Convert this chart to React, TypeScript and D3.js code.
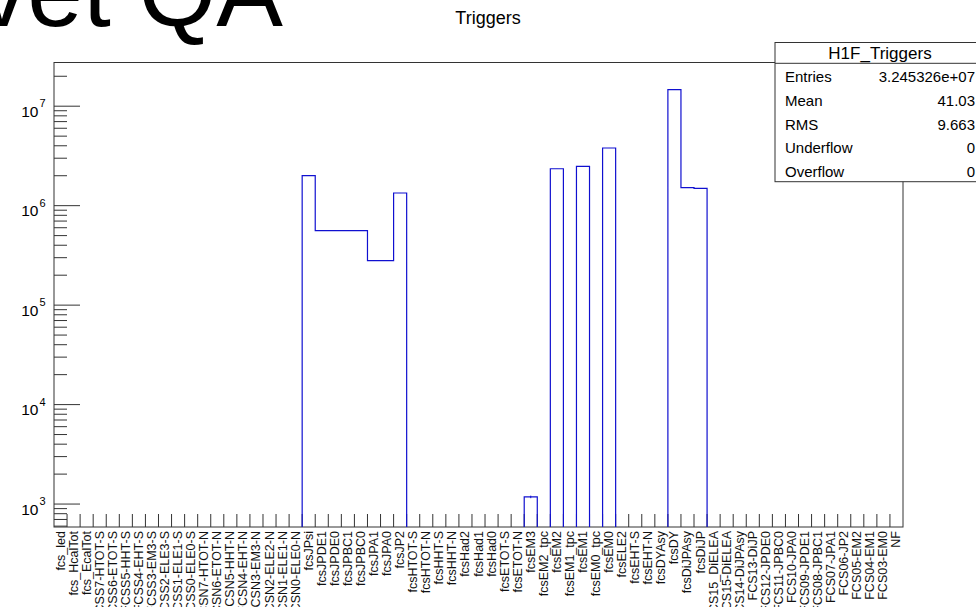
import React, { useEffect, useRef } from 'react';
import * as d3 from 'd3';

// bin labels of H1F_Triggers (one per bin)
const binLabels = [
  'fcs_led', 'fcs_HcalTot', 'fcs_EcalTot',
  'FCSS7-HTOT-S', 'FCSS6-ETOT-S', 'FCSS5-HHT-S', 'FCSS4-EHT-S', 'FCSS3-EM3-S',
  'FCSS2-ELE3-S', 'FCSS1-ELE1-S', 'FCSS0-ELE0-S',
  'FCSN7-HTOT-N', 'FCSN6-ETOT-N', 'FCSN5-HHT-N', 'FCSN4-EHT-N', 'FCSN3-EM3-N',
  'FCSN2-ELE2-N', 'FCSN1-ELE1-N', 'FCSN0-ELE0-N',
  'fcsJPsi', 'fcsJPDE1', 'fcsJPDE0', 'fcsJPBC1', 'fcsJPBC0', 'fcsJPA1', 'fcsJPA0', 'fcsJP2',
  'fcsHTOT-S', 'fcsHTOT-N', 'fcsHHT-S', 'fcsHHT-N', 'fcsHad2', 'fcsHad1', 'fcsHad0',
  'fcsETOT-S', 'fcsETOT-N', 'fcsEM3', 'fcsEM2_tpc', 'fcsEM2', 'fcsEM1_tpc', 'fcsEM1',
  'fcsEM0_tpc', 'fcsEM0', 'fcsELE2', 'fcsEHT-S', 'fcsEHT-N', 'fcsDYAsy', 'fcsDY',
  'fcsDiJPAsy', 'fcsDiJP',
  'FCS15_DiELEA', 'FCS15-DiELEA', 'FCS14-DiJPAsy', 'FCS13-DiJP', 'FCS12-JPDE0',
  'FCS11-JPBC0', 'FCS10-JPA0', 'FCS09-JPDE1', 'FCS08-JPBC1', 'FCS07-JPA1', 'FCS06-JP2',
  'FCS05-EM2', 'FCS04-EM1', 'FCS03-EM0', 'NF'
];

// counts per bin
const binCounts = [
  0, 0, 0,
  0, 0, 0, 0, 0, 0, 0, 0,
  0, 0, 0, 0, 0, 0, 0, 0,
  2.0e6, 5.6e5, 5.6e5, 5.6e5, 5.6e5, 2.8e5, 2.8e5, 1.34e6,
  0, 0, 0, 0, 0, 0, 0,
  0, 0, 1180, 0, 2.35e6, 0, 2.48e6,
  0, 3.8e6, 0, 0, 0, 0, 1.467e7,
  1.52e6, 1.49e6,
  0, 0, 0, 0, 0,
  0, 0, 0, 0, 0, 0,
  0, 0, 0, 0
];

const yMajorTicks = [1e3, 1e4, 1e5, 1e6, 1e7];
const statNames = ['Entries', 'Mean', 'RMS', 'Underflow', 'Overflow'];
const statValues = ['3.245326e+07', '41.03', '9.663', '0', '0'];

export default function App(): JSX.Element {
  const svgRef = useRef<SVGSVGElement>(null);

  useEffect(() => {
    const svgEle = svgRef.current;
    if (svgEle == null) {
      return;
    }
    const W = 976;
    const H = 607;
    const FONT = '"Liberation Sans", Arial, Helvetica, sans-serif';
    const HIST_COLOR = '#1010d0';
    const AXIS_COLOR = '#333';
    const frame = { left: 54, right: 903, top: 62.5, bottom: 527 };

    const svg = d3.select(svgEle);
    svg.selectAll('*').remove();
    svg.append('rect').attr('width', W).attr('height', H).attr('fill', 'white');

    // slide title, cut by the top/left edge
    svg
      .append('text')
      .attr('x', 283)
      .attr('y', 26)
      .attr('text-anchor', 'end')
      .attr('font-family', FONT)
      .attr('font-size', 100)
      .attr('fill', 'black')
      .text('vet QA');

    // histogram title
    svg
      .append('text')
      .attr('x', 488)
      .attr('y', 24)
      .attr('text-anchor', 'middle')
      .attr('font-family', FONT)
      .attr('font-size', 18)
      .attr('fill', 'black')
      .text('Triggers');

    const x = d3.scaleLinear().domain([0, binLabels.length]).range([frame.left, frame.right]);
    const y = d3.scaleLog().domain([588, 2.75e7]).range([frame.bottom, frame.top]);

    // frame
    svg
      .append('rect')
      .attr('x', frame.left)
      .attr('y', frame.top)
      .attr('width', frame.right - frame.left)
      .attr('height', frame.bottom - frame.top)
      .attr('fill', 'none')
      .attr('stroke', AXIS_COLOR)
      .attr('stroke-width', 1);

    // y ticks: minor at 2..9 x 10^n, major at decades
    const [yMin, yMax] = y.domain();
    const minorTicks: number[] = [];
    for (let e = 2; e <= 7; e++) {
      for (let m = 2; m <= 9; m++) {
        const v = m * Math.pow(10, e);
        if (v >= yMin && v <= yMax) minorTicks.push(v);
      }
    }
    svg
      .selectAll('line.yminor')
      .data(minorTicks)
      .enter()
      .append('line')
      .attr('x1', frame.left)
      .attr('x2', frame.left + 13)
      .attr('y1', (d) => y(d))
      .attr('y2', (d) => y(d))
      .attr('stroke', AXIS_COLOR);
    svg
      .selectAll('line.ymajor')
      .data(yMajorTicks)
      .enter()
      .append('line')
      .attr('x1', frame.left)
      .attr('x2', frame.left + 26)
      .attr('y1', (d) => y(d))
      .attr('y2', (d) => y(d))
      .attr('stroke', AXIS_COLOR);
    const yLab = svg.selectAll('g.ylab').data(yMajorTicks).enter().append('g');
    yLab
      .append('text')
      .attr('x', 38.5)
      .attr('y', (d) => y(d) + 10.5)
      .attr('text-anchor', 'end')
      .attr('font-family', FONT)
      .attr('font-size', 15.5)
      .attr('fill', 'black')
      .text('10');
    yLab
      .append('text')
      .attr('x', 39.5)
      .attr('y', (d) => y(d) + 1)
      .attr('font-family', FONT)
      .attr('font-size', 11)
      .attr('fill', 'black')
      .text((d) => String(Math.round(Math.log10(d))));

    // x ticks at bin edges
    svg
      .selectAll('line.xtick')
      .data(d3.range(1, binLabels.length))
      .enter()
      .append('line')
      .attr('x1', (d) => x(d))
      .attr('x2', (d) => x(d))
      .attr('y1', frame.bottom)
      .attr('y2', frame.bottom - 13)
      .attr('stroke', AXIS_COLOR);

    // x bin labels, vertical
    svg
      .selectAll('text.xlab')
      .data(binLabels)
      .enter()
      .append('text')
      .attr('transform', (_d, i) => `translate(${x(i + 0.5)},${frame.bottom + 4}) rotate(-90)`)
      .attr('text-anchor', 'end')
      .attr('dominant-baseline', 'central')
      .attr('font-family', FONT)
      .attr('font-size', 12.5)
      .attr('fill', '#111')
      .text((d) => d);

    // histogram outline, one path per run of filled bins
    const runs: [number, number][][] = [];
    let run: [number, number][] | null = null;
    binCounts.forEach((c, i) => {
      if (c > 0) {
        if (run == null) run = [[x(i), frame.bottom]];
        run.push([x(i), y(c)], [x(i + 1), y(c)]);
      } else if (run != null) {
        run.push([x(i), frame.bottom]);
        runs.push(run);
        run = null;
      }
    });
    if (run != null) {
      (run as [number, number][]).push([x(binLabels.length), frame.bottom]);
      runs.push(run);
    }
    const line = d3.line();
    svg
      .selectAll('path.hist')
      .data(runs)
      .enter()
      .append('path')
      .attr('d', (d) => line(d) || '')
      .attr('fill', 'none')
      .attr('stroke', HIST_COLOR)
      .attr('stroke-width', 1.2);

    // statistical error bars
    const filled = binCounts.map((c, i) => ({ c, i })).filter((d) => d.c > 0);
    svg
      .selectAll('line.err')
      .data(filled)
      .enter()
      .append('line')
      .attr('x1', (d) => x(d.i + 0.5))
      .attr('x2', (d) => x(d.i + 0.5))
      .attr('y1', (d) => y(d.c + Math.sqrt(d.c)))
      .attr('y2', (d) => y(d.c - Math.sqrt(d.c)))
      .attr('stroke', HIST_COLOR);

    // stats box
    const box = { left: 775, top: 42.5, header: 63.3, bottom: 181.7 };
    svg
      .append('rect')
      .attr('x', box.left)
      .attr('y', box.top)
      .attr('width', 230)
      .attr('height', box.bottom - box.top)
      .attr('fill', 'white')
      .attr('stroke', AXIS_COLOR);
    svg
      .append('line')
      .attr('x1', box.left)
      .attr('x2', W)
      .attr('y1', box.header)
      .attr('y2', box.header)
      .attr('stroke', AXIS_COLOR);
    svg
      .append('text')
      .attr('x', 880)
      .attr('y', (box.top + box.header) / 2 + 1)
      .attr('text-anchor', 'middle')
      .attr('dominant-baseline', 'central')
      .attr('font-family', FONT)
      .attr('font-size', 17)
      .attr('fill', 'black')
      .text('H1F_Triggers');
    const rowH = (box.bottom - box.header) / statNames.length;
    statNames.forEach((name, i) => {
      const cy = box.header + rowH * (i + 0.5) + 1.5;
      svg
        .append('text')
        .attr('x', 785)
        .attr('y', cy)
        .attr('dominant-baseline', 'central')
        .attr('font-family', FONT)
        .attr('font-size', 15)
        .attr('fill', 'black')
        .text(name);
      svg
        .append('text')
        .attr('x', 975)
        .attr('y', cy)
        .attr('text-anchor', 'end')
        .attr('dominant-baseline', 'central')
        .attr('font-family', FONT)
        .attr('font-size', 15)
        .attr('fill', 'black')
        .text(statValues[i]);
    });
  });

  return (
    <svg
      ref={svgRef}
      width={976}
      height={607}
      style={{ position: 'fixed', left: 0, top: 0, overflow: 'hidden', display: 'block' }}
    />
  );
}
